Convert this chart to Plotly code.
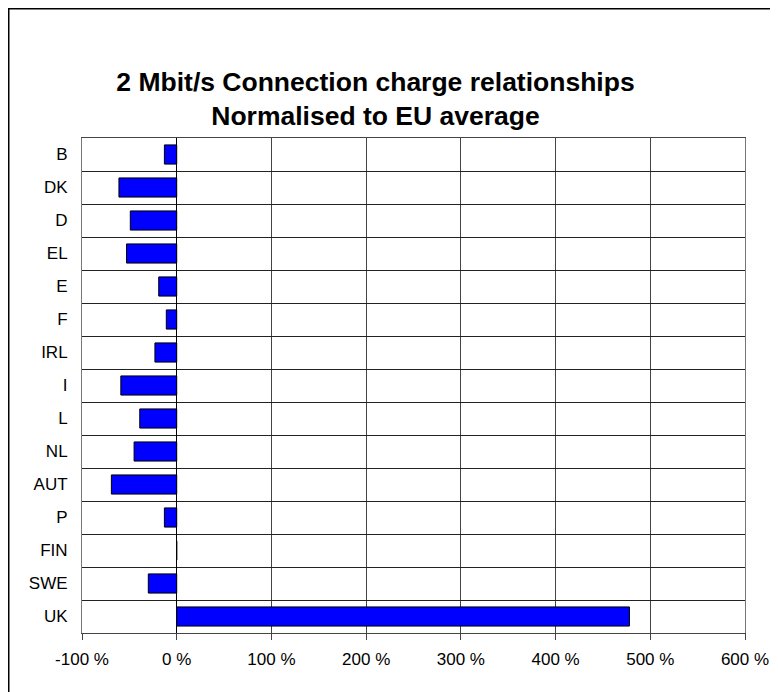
import plotly.graph_objects as go

countries = ["B", "DK", "D", "EL", "E", "F", "IRL", "I", "L", "NL", "AUT", "P", "FIN", "SWE", "UK"]
values = [-13, -61, -49, -53, -19, -11, -23, -59, -39, -45, -69, -13, 0, -30, 478]
x_ticks = [-100, 0, 100, 200, 300, 400, 500, 600]
x_labels = [f"{v} %" for v in x_ticks]

W, H = 778, 692
L, T = 74, 130
PR, PB = 737, 625          # plot right / bottom in figure pixels
R, B = W - PR, H - PB
pw, ph = PR - L, PB - T

FONT = "Liberation Sans, Arial, sans-serif"

fig = go.Figure(go.Bar(
    x=values, y=countries, orientation="h",
    marker=dict(color="#0000FF", line=dict(color="black", width=1)),
    width=0.58,
))

fig.update_layout(
    width=W, height=H,
    margin=dict(l=L, r=R, t=T, b=B),
    paper_bgcolor="white", plot_bgcolor="white",
    font=dict(family=FONT, size=17, color="black"),
    title=dict(
        text="2 Mbit/s Connection charge relationships<br>Normalised to EU average",
        font=dict(size=26.5, color="black", family=FONT, weight="bold"),
        x=367.5 / W, xanchor="center",
        y=1 - 82.5 / H, yanchor="middle",
    ),
    showlegend=False,
    xaxis=dict(
        range=[-100, 600], tickvals=x_ticks, ticktext=x_labels,
        showgrid=True, gridcolor="#444444", gridwidth=1,
        zeroline=True, zerolinecolor="black", zerolinewidth=1,
        ticks="outside", ticklen=6, tickcolor="#444444",
        ticklabelstandoff=5,
        showline=True, linecolor="#444444", mirror=True,
        tickfont=dict(size=17), fixedrange=True,
    ),
    yaxis=dict(
        type="category", autorange="reversed",
        tickson="boundaries", showgrid=True, gridcolor="#222222", gridwidth=1,
        ticks="", showline=True, linecolor="#777777", mirror=True,
        ticklabelstandoff=10, tickfont=dict(size=17),
    ),
    shapes=[dict(
        type="rect", xref="paper", yref="paper",
        x0=(0.5 - L) / pw, x1=(W + 40 - L) / pw,
        y0=-(H + 40 - PB) / ph, y1=(PB - 0.5) / ph,
        line=dict(color="black", width=2), fillcolor="rgba(0,0,0,0)", layer="below",
    )],
)

fig.write_html("out.html")
